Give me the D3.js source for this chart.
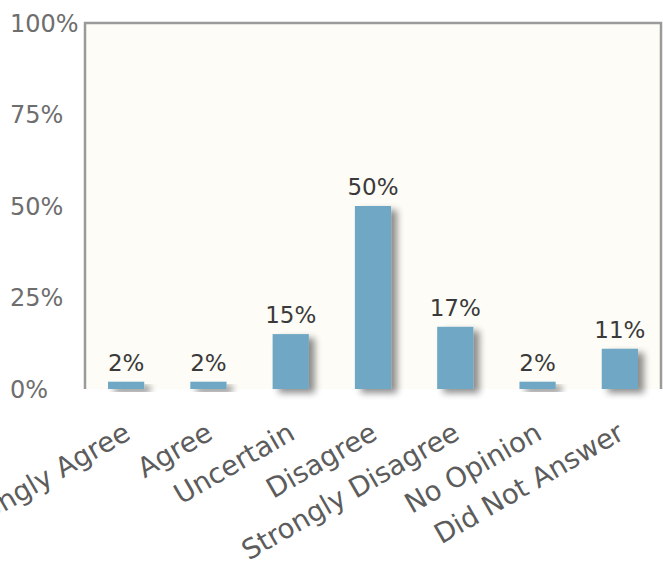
<!DOCTYPE html>
<html>
<head>
<meta charset="utf-8">
<script src="https://cdn.jsdelivr.net/npm/d3@7"></script>
<style>
  html, body { margin: 0; padding: 0; background: #fff; }
  svg { display: block; }
</style>
</head>
<body>
<svg id="chart" width="663" height="568"></svg>
<script>
// Survey responses (percent of respondents)
const categories = ["Strongly Agree", "Agree", "Uncertain", "Disagree", "Strongly Disagree", "No Opinion", "Did Not Answer"];
const values = [2, 2, 15, 50, 17, 2, 11];
const yTicks = [0, 25, 50, 75, 100];

const svg = d3.select("#chart");
const plotLeft = 85, plotRight = 661, plotTop = 23, plotBottom = 389;
const font = "Verdana, 'DejaVu Sans', sans-serif";

const x = d3.scaleBand().domain(categories).range([plotLeft, plotRight]).paddingInner(0.56).paddingOuter(0.28);
const y = d3.scaleLinear().domain([0, 100]).range([plotBottom, plotTop]);

const defs = svg.append("defs");
const shadow = defs.append("filter").attr("id", "shadow")
  .attr("x", "-30%").attr("y", "-20%").attr("width", "180%").attr("height", "160%");
shadow.append("feGaussianBlur").attr("in", "SourceAlpha").attr("stdDeviation", 3.5).attr("result", "b");
shadow.append("feOffset").attr("in", "b").attr("dx", 6).attr("dy", 4).attr("result", "o");
shadow.append("feComponentTransfer").attr("in", "o").attr("result", "s")
  .append("feFuncA").attr("type", "linear").attr("slope", 0.45);
const merge = shadow.append("feMerge");
merge.append("feMergeNode").attr("in", "s");
merge.append("feMergeNode").attr("in", "SourceGraphic");

// Plot background
svg.append("rect")
  .attr("x", plotLeft).attr("y", plotTop)
  .attr("width", plotRight - plotLeft).attr("height", plotBottom - plotTop)
  .attr("fill", "#fdfcf6");

// Bars
svg.append("g").selectAll("rect").data(values).join("rect")
  .attr("x", (d, i) => x(categories[i]))
  .attr("y", d => y(d))
  .attr("width", x.bandwidth())
  .attr("height", d => y(0) - y(d))
  .attr("fill", "#6fa7c4")
  .attr("filter", "url(#shadow)");

// Frame
svg.append("path")
  .attr("d", `M${plotLeft},${plotBottom}V${plotTop}H${plotRight}V${plotBottom}`)
  .attr("fill", "none").attr("stroke", "#9a9a9a").attr("stroke-width", 2.5);
svg.append("line")
  .attr("x1", plotLeft).attr("x2", plotRight).attr("y1", plotBottom + 1).attr("y2", plotBottom + 1)
  .attr("stroke", "#8c8c8c").attr("stroke-width", 2.5)
  .attr("filter", "url(#shadow)");

// Y axis labels
const yAxis = svg.append("g")
  .attr("transform", `translate(${plotLeft},0)`)
  .call(d3.axisLeft(y).tickValues(yTicks).tickFormat(d => d + "%").tickSize(0));
yAxis.select(".domain").remove();
yAxis.selectAll("text")
  .attr("x", 10 - plotLeft).attr("dy", "0.35em")
  .attr("text-anchor", "start")
  .attr("font-family", font).attr("font-size", 24).attr("fill", "#6e6e6e");

// Value labels
svg.append("g").selectAll("text").data(values).join("text")
  .attr("x", (d, i) => x(categories[i]) + x.bandwidth() / 2)
  .attr("y", d => y(d) - 11)
  .attr("text-anchor", "middle")
  .attr("font-family", font).attr("font-size", 23).attr("fill", "#3a3a3a")
  .text(d => d + "%");

// X axis labels, rotated
const xAxis = svg.append("g")
  .attr("transform", `translate(0,${plotBottom})`)
  .call(d3.axisBottom(x).tickSize(0));
xAxis.select(".domain").remove();
xAxis.selectAll("text")
  .attr("font-family", font).attr("font-size", 27.5).attr("fill", "#5c5c5c")
  .attr("text-anchor", "end")
  .attr("dy", "0")
  .attr("y", 0)
  .attr("transform", "translate(6,49) rotate(-30)");
</script>
</body>
</html>
